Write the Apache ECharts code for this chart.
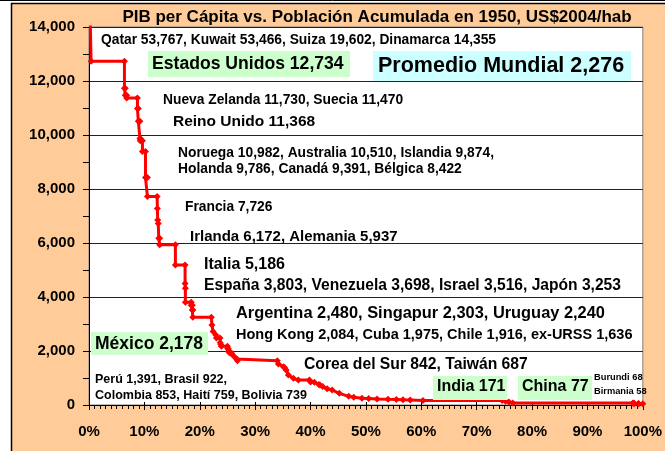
<!DOCTYPE html>
<html>
<head>
<meta charset="utf-8">
<script src="https://cdn.jsdelivr.net/npm/echarts@6/dist/echarts.min.js"></script>
<style>
  html, body { margin: 0; padding: 0; background: #fff; }
  #chart { width: 665px; height: 451px; }
</style>
</head>
<body>
<div id="chart"></div>
<script>
// población acumulada (% mundial) y PIB per cápita 1950 (US$2004/hab)
const popAcum = [
  0, 0.01, 0.01, 0.03, 0.03, 0.21, 0.21, 0.38, 0.38, 6.4,
  6.4, 6.55, 6.55, 6.8, 6.8, 8.75, 8.75, 8.9, 8.9, 9.2,
  9.2, 9.25, 9.25, 9.65, 9.65, 10.2, 10.2, 10.55, 10.55, 12.3,
  12.35, 12.4, 12.5, 12.6, 12.75, 12.75, 15.6, 15.6, 17.35, 17.35,
  17.4, 17.4, 18.45, 18.45, 18.65, 18.65, 18.75, 18.75, 22.1, 22.2,
  22.4, 22.9, 23.0, 23.65, 23.7, 23.8, 23.9, 25.0, 25.05, 25.15,
  25.2, 25.45, 25.5, 25.75, 26.2, 26.7, 26.8, 34.0, 34.2, 35.1,
  35.3, 35.6, 36.0, 36.9, 37.8, 39.8, 40.0, 40.7, 41.5, 41.7,
  42.2, 43.0, 43.9, 45.2, 46.9, 47.8, 49.3, 50.5, 52.0, 54.0,
  55.5, 56.7, 58.0, 60.3, 74.6, 75.2, 75.8, 76.5, 98.2, 98.25,
  98.4, 98.45, 99.2, 99.25, 100
];
const pibPc = [
  53767, 53767, 53466, 53466, 19602, 19602, 14355, 14355, 12734, 12734,
  11730, 11730, 11470, 11470, 11368, 11368, 10982, 10982, 10510, 10510,
  9874, 9874, 9786, 9786, 9391, 9391, 8422, 8422, 7726, 7726,
  7280, 6850, 6720, 6172, 6172, 5937, 5937, 5186, 5186, 4500,
  4320, 3803, 3803, 3698, 3698, 3516, 3516, 3253, 3253, 2960,
  2720, 2590, 2480, 2480, 2303, 2240, 2178, 2178, 2084, 2084,
  1975, 1975, 1916, 1916, 1800, 1700, 1636, 1636, 1519, 1420,
  1391, 1300, 1111, 990, 922, 922, 853, 842, 759, 739,
  687, 600, 556, 432, 320, 290, 250, 240, 225, 210,
  200, 190, 185, 171, 171, 140, 110, 77, 77, 68,
  68, 58, 58, 50, 50
];

const titulo = 'PIB per Cápita vs. Población Acumulada en 1950, US$2004/hab';

// texto, x, y (centro), tamaño
const notas = [
  ['Qatar 53,767, Kuwait 53,466, Suiza 19,602, Dinamarca 14,355', 101, 40, 13.8],
  ['Estados Unidos 12,734', 152, 64, 17.6],
  ['Promedio Mundial 2,276', 378, 66, 21.5],
  ['Nueva Zelanda 11,730, Suecia 11,470', 163, 100, 13.8],
  ['Reino Unido 11,368', 173, 122, 15.5],
  ['Noruega 10,982, Australia 10,510, Islandia 9,874,', 178, 153, 13.8],
  ['Holanda 9,786, Canadá 9,391, Bélgica 8,422', 178, 169, 13.8],
  ['Francia 7,726', 185, 207, 13.8],
  ['Irlanda 6,172, Alemania 5,937', 190, 237, 15],
  ['Italia 5,186', 204, 265, 16],
  ['España 3,803, Venezuela 3,698, Israel 3,516, Japón 3,253', 204, 286, 15.6],
  ['Argentina 2,480, Singapur 2,303, Uruguay 2,240', 236, 313, 16.4],
  ['Hong Kong 2,084, Cuba 1,975, Chile 1,916, ex-URSS 1,636', 236, 335, 14.5],
  ['México 2,178', 95, 344, 17.5],
  ['Corea del Sur 842, Taiwán 687', 304, 365, 15.7],
  ['Perú 1,391, Brasil 922,', 95, 380, 12.5],
  ['Colombia 853, Haití 759, Bolivia 739', 95, 396, 12.5],
  ['India 171', 437, 387, 16],
  ['China 77', 522, 387, 16],
  ['Burundi 68', 594, 377, 9.3],
  ['Birmania 58', 594, 391, 9.3]
];

// cajas de fondo: x, y, ancho, alto, color
const cajas = [
  [148, 51, 202, 26, '#CCFFCC'],
  [373, 51, 258, 30, '#CCFFFF'],
  [91, 332, 117, 23, '#CCFFCC'],
  [433, 376, 74, 24, '#CCFFCC'],
  [518, 376, 74, 24, '#CCFFCC']
];

const FONT = '"Liberation Sans", Arial, Helvetica, sans-serif';

function texto(t, x, y, size, align) {
  return {
    type: 'text', x: x, y: y, z: 100,
    style: {
      text: t, font: 'bold ' + size + 'px ' + FONT, fill: '#000',
      textAlign: align || 'left', align: align || 'left',
      textVerticalAlign: 'middle', verticalAlign: 'middle'
    }
  };
}

const graficos = [
  { type: 'rect', z: 50, shape: { x: 0, y: 0, width: 11, height: 451 }, style: { fill: '#fff' } },
  { type: 'rect', z: 50, shape: { x: 0, y: 0, width: 665, height: 3 }, style: { fill: '#fff' } },
  { type: 'line', z: 51, shape: { x1: 0, y1: 0.5, x2: 665, y2: 0.5 }, style: { stroke: '#000', lineWidth: 1 } },
  { type: 'line', z: 51, shape: { x1: 11, y1: 3.5, x2: 665, y2: 3.5 }, style: { stroke: '#000', lineWidth: 1.5 } },
  { type: 'line', z: 51, shape: { x1: 11.5, y1: 3, x2: 11.5, y2: 451 }, style: { stroke: '#000', lineWidth: 1.5 } },
  texto(titulo, 377, 17, 17, 'center')
];
cajas.forEach(c => graficos.push({
  type: 'rect', z: 90, shape: { x: c[0], y: c[1], width: c[2], height: c[3] }, style: { fill: c[4] }
}));
notas.forEach(n => graficos.push(texto(n[0], n[1], n[2], n[3])));

const chart = echarts.init(document.getElementById('chart'));
chart.setOption({
  animation: false,
  backgroundColor: '#FFCC99',
  grid: {
    left: 89, right: 13, top: 27, bottom: 46,
    show: true, backgroundColor: '#fff', borderColor: '#808080', borderWidth: 1
  },
  xAxis: [
    {
      type: 'value', min: 0, max: 100, interval: 10, position: 'bottom',
      axisLine: { onZero: false, lineStyle: { color: '#000', width: 1 } },
      axisTick: { show: true, length: 5, lineStyle: { color: '#000' } },
      minorTick: { show: true, splitNumber: 10, length: 4, lineStyle: { color: '#000' } },
      axisLabel: {
        formatter: '{value}%', color: '#000', fontWeight: 'bold', fontSize: 15,
        fontFamily: FONT, margin: 19
      },
      splitLine: { show: false }
    },
    {
      type: 'value', min: 0, max: 100, interval: 10, position: 'bottom',
      axisLine: { show: false, onZero: false },
      axisTick: { show: true, inside: true, length: 3, lineStyle: { color: '#000' } },
      axisLabel: { show: false },
      splitLine: { show: false }
    }
  ],
  yAxis: {
    type: 'value', min: 0, max: 14000, interval: 2000,
    axisLine: { show: true, onZero: false, lineStyle: { color: '#000', width: 1 } },
    axisTick: { show: true, length: 6, lineStyle: { color: '#000' } },
    minorTick: { show: true, splitNumber: 2, length: 6, lineStyle: { color: '#000' } },
    axisLabel: {
      formatter: v => v.toLocaleString('en-US'), color: '#000', fontWeight: 'bold',
      fontSize: 15, fontFamily: FONT, margin: 14
    },
    splitLine: { show: true, lineStyle: { color: '#222', width: 1 } }
  },
  series: [{
    type: 'line',
    xAxisIndex: 0,
    data: popAcum.map((x, i) => [x, pibPc[i]]),
    symbol: 'diamond',
    symbolSize: 7,
    showAllSymbol: true,
    clip: true,
    lineStyle: { color: '#FF0000', width: 3 },
    itemStyle: { color: '#FF0000' },
    z: 10
  }],
  graphic: graficos
});
</script>
</body>
</html>
